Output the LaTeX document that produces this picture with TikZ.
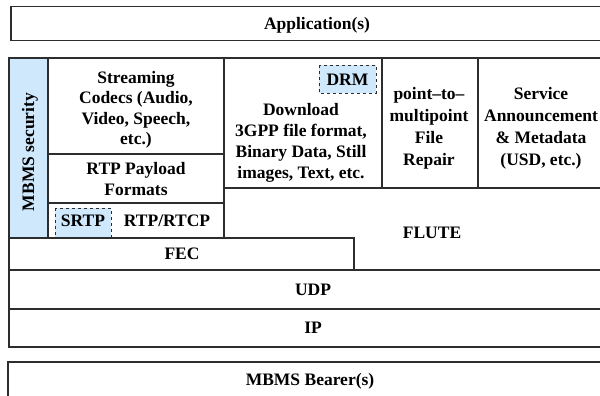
\documentclass[tikz,border=0pt]{standalone}
\usepackage{fontspec}
\setmainfont{Liberation Serif}
\definecolor{secblue}{RGB}{207,232,252}
\definecolor{edge}{RGB}{45,45,45}
\begin{document}
\begin{tikzpicture}[x=1pt,y=-1pt,
  layer/.style={draw=edge,line width=1.2pt},
  lbl/.style={font=\fontsize{17.5}{20.5}\selectfont\bfseries,align=center,inner sep=0pt},
  wide/.style={font=\fontsize{17.5}{22}\selectfont\bfseries},
  mid/.style={font=\fontsize{17.5}{21}\selectfont\bfseries},
  dashbox/.style={draw=edge,fill=secblue,dashed,line width=0.9pt}]
\useasboundingbox (0,0) rectangle (600,396);
\clip (0,0) rectangle (600,396);
% application
\draw[layer] (11,6.5) rectangle (640,40.5);
\node[lbl] (app) at (317,25.5) {Application(s)};
% security column
\draw[layer,fill=secblue] (9,58) rectangle (48,238);
\node[lbl,rotate=90] (sec) at (30,152) {MBMS security};
% streaming
\draw[layer] (48,58) rectangle (224,154);
\node[lbl] (codec) at (136,110) {Streaming\\Codecs (Audio,\\Video, Speech,\\etc.)};
\draw[layer] (48,154) rectangle (224,203);
\node[lbl] (rtpp) at (136,179) {RTP Payload\\Formats};
\draw[layer] (48,203) rectangle (224,238);
\draw[dashbox] (55,208) rectangle (111,237);
\node[lbl] (srtp) at (83,220.5) {SRTP};
\node[lbl] (rtp) at (167,220.5) {RTP/RTCP};
% download
\draw[layer] (224,58) rectangle (382,188);
\draw[dashbox] (319,65) rectangle (376,93);
\node[lbl] (drm) at (347.5,80) {DRM};
\node[lbl,mid] (dl) at (301,143) {Download\\3GPP file format,\\Binary Data, Still\\images, Text, etc.};
% p2m
\draw[layer] (382,58) rectangle (478,188);
\node[lbl,wide] (p2m) at (429,128.5) {point\textendash to\textendash\\multipoint\\File\\Repair};
% service announcement
\draw[layer] (478,58) rectangle (640,188);
\node[lbl,wide] (sa) at (541,128.5) {Service\\Announcement\\\&\ Metadata\\(USD, etc.)};
% flute
\draw[layer] (224,188) rectangle (640,270);
\node[lbl] (flute) at (432,232.5) {FLUTE};
% fec
\draw[layer,fill=white] (9,238) rectangle (354,270);
\node[lbl] (fec) at (182,254) {FEC};
% udp / ip
\draw[layer] (9,270) rectangle (640,309);
\node[lbl] (udp) at (313,289.5) {UDP};
\draw[layer] (9,309) rectangle (640,347);
\node[lbl] (ip) at (313,328) {IP};
% bearer
\draw[layer] (8,362) rectangle (640,420);
\node[lbl] (bearer) at (310,381) {MBMS Bearer(s)};
\end{tikzpicture}
\end{document}
